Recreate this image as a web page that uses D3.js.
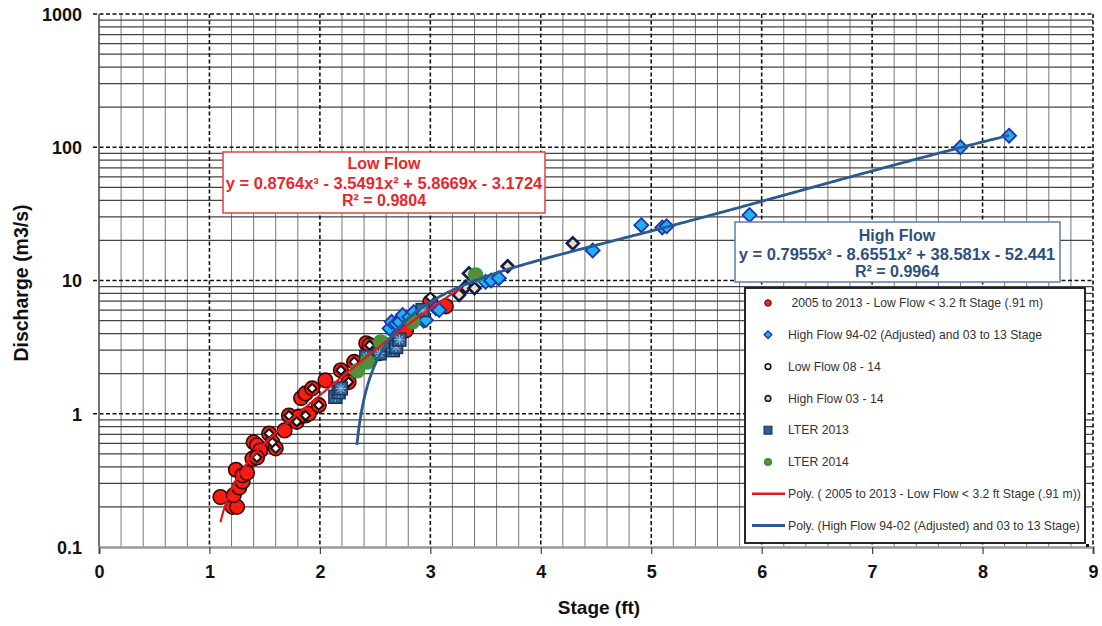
<!DOCTYPE html>
<html><head><meta charset="utf-8">
<script src="https://cdn.jsdelivr.net/npm/d3@7"></script>
<style>
html,body{margin:0;padding:0;background:#fff;}
svg{display:block;font-family:"Liberation Sans",Arial,sans-serif;}
</style></head>
<body><svg id="c" width="1102" height="626"></svg>
<script>
// ---------- DATA ----------
const xTicks = [0,1,2,3,4,5,6,7,8,9];
const yTicks = [0.1,1,10,100,1000];
const yTickLabels = ["0.1","1","10","100","1000"];

// 2005 to 2013 - Low Flow < 3.2 ft Stage (.91 m)
const lowFlowX = [1.10,1.21,1.25,1.22,1.27,1.30,1.24,1.30,1.34,1.39,1.40,1.43,1.46,1.43,1.54,1.57,1.60,1.68,1.72,1.79,1.87,1.81,1.90,1.99,1.83,1.87,1.93,2.05,2.19,2.26,2.31,2.42,2.45,2.54,2.74,2.78,3.00,3.14];
const lowFlowY = [0.237,0.20,0.20,0.245,0.28,0.31,0.38,0.345,0.36,0.46,0.61,0.58,0.53,0.47,0.71,0.61,0.55,0.75,0.97,0.87,0.97,0.95,1.0,1.16,1.31,1.42,1.55,1.78,2.12,1.73,2.45,3.38,3.27,2.85,4.5,4.23,6.9,6.4];

// High Flow 94-02 (Adjusted) and 03 to 13 Stage
const highFlowX = [2.63,2.65,2.69,2.72,2.75,2.81,2.85,2.94,2.96,3.05,3.08,3.50,3.55,3.62,4.47,4.91,5.10,5.14,5.89,7.80,8.24];
const highFlowY = [4.37,4.9,4.76,4.89,5.5,5.32,5.8,5.0,5.05,6.2,6.0,9.77,10.0,10.4,16.8,26,25,25.5,31,100,122];

// Low Flow 08 - 14
const lf0814X = [1.43,1.54,1.57,1.60,1.72,1.79,1.87,1.99,1.93,2.19,2.26,2.31,2.45,3.00];
const lf0814Y = [0.47,0.71,0.61,0.55,0.97,0.87,0.97,1.16,1.55,2.12,1.73,2.45,3.27,7.5];

// High Flow 03 - 14
const hf0314X = [3.26,3.32,3.40,3.35,3.70,4.29];
const hf0314Y = [7.8,8.95,8.75,11.3,12.8,19];

// LTER 2013
const lter13X = [2.14,2.17,2.19,2.42,2.54,2.62,2.66,2.69,2.72,2.93];
const lter13Y = [1.34,1.45,1.55,2.67,2.84,3.3,3.0,3.17,3.6,6.0];

// LTER 2014
const lter14X = [2.34,2.43,2.55,2.84,3.41];
const lter14Y = [2.1,2.45,3.45,4.9,11.0];

// Trendline polynomial coefficients (from chart labels: c3, c2, c1, c0)
const lowFitCoef = [0.8764,-3.5491,5.8669,-3.1724];
const lowFitRange = [1.10,3.30];
const highFitCoef = [0.7955,-8.6551,38.581,-52.441];
const highFitRange = [2.335,8.24];

const legendLabels = [" 2005 to 2013 - Low Flow < 3.2 ft Stage (.91 m)","High Flow 94-02 (Adjusted) and 03 to 13 Stage","Low Flow 08 - 14","High Flow 03 - 14","LTER 2013","LTER 2014","Poly. ( 2005 to 2013 - Low Flow < 3.2 ft Stage (.91 m))","Poly. (High Flow 94-02 (Adjusted) and 03 to 13 Stage)"];

// ---------- DRAW ----------
const svg = d3.select("#c");
const L=99, R=1093, T=14, B=547;
const x = d3.scaleLinear().domain([0,9]).range([L,R]);
const y = d3.scaleLog().domain([0.1,1000]).range([B,T]);

const grid = svg.append("g");
// minor vertical
d3.range(0,9.001,0.2).forEach(v=>{
  if (Math.abs(v-Math.round(v))<1e-6) return;
  grid.append("line").attr("x1",x(v)).attr("x2",x(v)).attr("y1",T).attr("y2",B)
    .attr("stroke","#777").attr("stroke-width",1);
});
// minor horizontal
y.ticks().forEach(v=>{
  const lg=Math.log10(v);
  if (Math.abs(lg-Math.round(lg))<1e-6) return;
  grid.append("line").attr("x1",L).attr("x2",R).attr("y1",y(v)).attr("y2",y(v))
    .attr("stroke","#444").attr("stroke-width",1.3);
});
// major dashed
xTicks.forEach(v=>{
  if (v===0) return;
  grid.append("line").attr("x1",x(v)).attr("x2",x(v)).attr("y1",T).attr("y2",B)
    .attr("stroke","#111").attr("stroke-width",1.6).attr("stroke-dasharray","4,2.5");
});
yTicks.forEach(v=>{
  if (v===0.1) return;
  grid.append("line").attr("x1",L-6).attr("x2",R).attr("y1",y(v)).attr("y2",y(v))
    .attr("stroke","#111").attr("stroke-width",1.6).attr("stroke-dasharray","4,2.5");
});
// left edge
grid.append("line").attr("x1",L).attr("x2",L).attr("y1",T).attr("y2",B).attr("stroke","#444").attr("stroke-width",1.5);

// axes
const xa = svg.append("g").attr("transform",`translate(0,${B})`)
  .call(d3.axisBottom(x).tickValues(xTicks).tickSize(7).tickFormat(d3.format("d")));
xa.select(".domain").attr("stroke","#999").attr("stroke-width",2.5);
xa.selectAll(".tick line").attr("stroke","#444").attr("stroke-width",1.2);
xa.selectAll("text").attr("font-size",18).attr("font-weight","bold").attr("fill","#111").attr("dy","1.15em");

const ya = svg.append("g").attr("transform",`translate(${L},0)`)
  .call(d3.axisLeft(y).tickValues(yTicks).tickSize(0).tickPadding(17).tickFormat((d,i)=>yTickLabels[i]));
ya.select(".domain").remove();
ya.selectAll("text").attr("font-size",18).attr("font-weight","bold").attr("fill","#111").attr("dy","0.35em");

// axis titles
svg.append("text").attr("x",(L+R)/2+3).attr("y",614).attr("text-anchor","middle")
  .attr("font-size",19).attr("font-weight","bold").attr("fill","#111").text("Stage (ft)");
svg.append("text").attr("transform","translate(28,283) rotate(-90)").attr("text-anchor","middle")
  .attr("font-size",19.5).attr("font-weight","bold").attr("fill","#111").text("Discharge (m3/s)");

// ---------- markers ----------
const plot = svg.append("g");
const zip = (xs,ys)=>xs.map((v,i)=>[v,ys[i]]);
function diamond(g,data,h,fill,stroke,sw){
  g.selectAll(null).data(data).enter().append("path")
   .attr("d",d=>`M${x(d[0])},${y(d[1])-h}L${x(d[0])+h},${y(d[1])}L${x(d[0])},${y(d[1])+h}L${x(d[0])-h},${y(d[1])}Z`)
   .attr("fill",fill).attr("stroke",stroke).attr("stroke-width",sw);
}
// red low flow circles
plot.selectAll(null).data(zip(lowFlowX,lowFlowY)).enter().append("circle")
  .attr("cx",d=>x(d[0])).attr("cy",d=>y(d[1])).attr("r",7.3)
  .attr("fill","#ff1a12").attr("stroke","#2a0a0a").attr("stroke-width",1.6);
// high flow diamonds
diamond(plot,zip(highFlowX,highFlowY),7,"#22b0f2","#1b36b0",1.8);
// low flow 08-14
diamond(plot,zip(lf0814X,lf0814Y),4.5,"#fff","#111",2);
// high flow 03-14
diamond(plot,zip(hf0314X,hf0314Y),6,"#f3dcb4","#101a55",2.6);
// LTER 2013
const l13 = plot.selectAll(null).data(zip(lter13X,lter13Y)).enter().append("g")
  .attr("transform",d=>`translate(${x(d[0])},${y(d[1])})`);
l13.append("rect").attr("x",-6.5).attr("y",-6.5).attr("width",13).attr("height",13)
  .attr("fill","#2b5f8e").attr("stroke","#1b2f5c").attr("stroke-width",1.4);
[[0,-5,0,5],[-5,0,5,0],[-3.5,-3.5,3.5,3.5],[-3.5,3.5,3.5,-3.5]].forEach(s=>{
  l13.append("line").attr("x1",s[0]).attr("y1",s[1]).attr("x2",s[2]).attr("y2",s[3])
    .attr("stroke","#8fb8de").attr("stroke-width",1.1);
});
// LTER 2014
plot.selectAll(null).data(zip(lter14X,lter14Y)).enter().append("circle")
  .attr("cx",d=>x(d[0])).attr("cy",d=>y(d[1])).attr("r",7)
  .attr("fill","#5a8a3a").attr("stroke","#27a23a").attr("stroke-width",1.6);

// ---------- trendlines ----------
const poly = c => v => ((c[0]*v + c[1])*v + c[2])*v + c[3];
function curve(c,rng,color,w){
  const f=poly(c);
  const pts=d3.range(rng[0],rng[1]+1e-9,(rng[1]-rng[0])/300).map(v=>[v,f(v)]);
  plot.append("path").datum(pts).attr("fill","none").attr("stroke",color).attr("stroke-width",w)
    .attr("d",d3.line().x(d=>x(d[0])).y(d=>y(d[1])));
}
curve(lowFitCoef,lowFitRange,"#e3191c",2.2);
curve(highFitCoef,highFitRange,"#2a5a90",2.8);

// ---------- equation boxes ----------
const lb = svg.append("g");
lb.append("rect").attr("x",223).attr("y",152).attr("width",322).attr("height",61)
  .attr("fill","#fff").attr("stroke","#e0403f").attr("stroke-width",1.5);
[["Low Flow",169,16],["y = 0.8764x³ - 3.5491x² + 5.8669x - 3.1724",189,16.5],["R² = 0.9804",206,16]].forEach(t=>{
  lb.append("text").attr("x",384).attr("y",t[1]).attr("text-anchor","middle").attr("font-size",t[2])
    .attr("font-weight","bold").attr("fill","#e4282c").text(t[0]);
});
const hb = svg.append("g");
hb.append("rect").attr("x",735).attr("y",222).attr("width",325).attr("height",60)
  .attr("fill","#fff").attr("stroke","#5a7ea8").attr("stroke-width",1.5);
[["High Flow",241,16],["y = 0.7955x³ - 8.6551x² + 38.581x - 52.441",260,16.5],["R² = 0.9964",277,16]].forEach(t=>{
  hb.append("text").attr("x",897).attr("y",t[1]).attr("text-anchor","middle").attr("font-size",t[2])
    .attr("font-weight","bold").attr("fill","#2f4e7e").text(t[0]);
});

// ---------- legend ----------
const lg = svg.append("g");
lg.append("rect").attr("x",745).attr("y",288).attr("width",340).attr("height",255)
  .attr("fill","#fff").attr("stroke","#111").attr("stroke-width",1.8);
lg.append("rect").attr("x",1086).attr("y",544).attr("width",3).attr("height",3).attr("fill","#111");
const ly = d3.range(legendLabels.length).map(i=>303+i*31.8);
legendLabels.forEach((t,i)=>{
  lg.append("text").attr("x",788).attr("y",ly[i]).attr("dy","0.35em").attr("font-size",12.2)
    .attr("xml:space","preserve").style("white-space","pre")
    .attr("fill","#333").text(t);
});
const mx=768;
lg.append("circle").attr("cx",mx).attr("cy",ly[0]).attr("r",3.3).attr("fill","#ff1a12").attr("stroke","#222").attr("stroke-width",1);
lg.append("path").attr("d",`M${mx},${ly[1]-3.8}L${mx+3.8},${ly[1]}L${mx},${ly[1]+3.8}L${mx-3.8},${ly[1]}Z`).attr("fill","#22b0f2").attr("stroke","#1b36b0").attr("stroke-width",1.4);
lg.append("circle").attr("cx",mx).attr("cy",ly[2]).attr("r",2.8).attr("fill","#fff").attr("stroke","#111").attr("stroke-width",1.6);
lg.append("circle").attr("cx",mx).attr("cy",ly[3]).attr("r",2.8).attr("fill","#f3dcb4").attr("stroke","#101a55").attr("stroke-width",1.6);
lg.append("rect").attr("x",mx-4).attr("y",ly[4]-4).attr("width",8).attr("height",8).attr("fill","#2b5f8e").attr("stroke","#1b2f5c").attr("stroke-width",1);
lg.append("circle").attr("cx",mx).attr("cy",ly[5]).attr("r",3.5).attr("fill","#5a8a3a").attr("stroke","#27a23a").attr("stroke-width",1.2);
lg.append("line").attr("x1",752).attr("x2",785).attr("y1",ly[6]).attr("y2",ly[6]).attr("stroke","#e3191c").attr("stroke-width",2.5);
lg.append("line").attr("x1",752).attr("x2",785).attr("y1",ly[7]).attr("y2",ly[7]).attr("stroke","#2a5a90").attr("stroke-width",3);
</script></body></html>
